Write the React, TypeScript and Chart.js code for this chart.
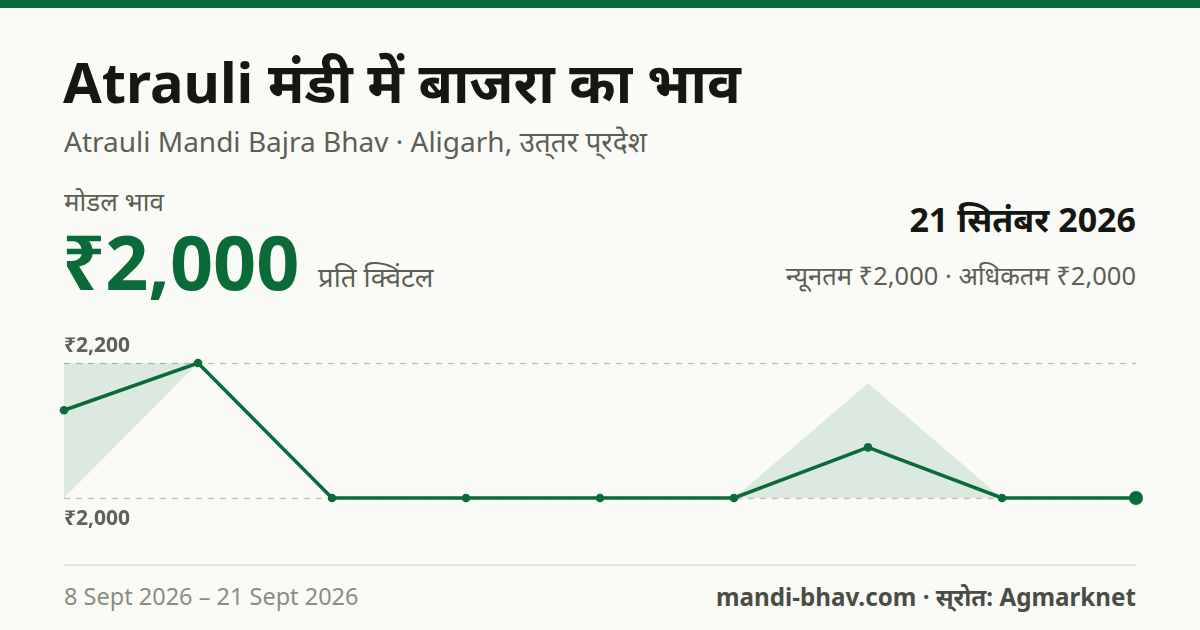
import React, { useEffect, useRef } from "react";
import { Chart, registerables } from "chart.js";

Chart.register(...registerables);

const dates = ["8 Sep", "9 Sep", "10 Sep", "11 Sep", "12 Sep", "13 Sep", "14 Sep", "15 Sep", "21 Sep"];
const modalPrices = [2130, 2200, 2000, 2000, 2000, 2000, 2075, 2000, 2000];
const minPrices = [2000, 2200, 2000, 2000, 2000, 2000, 2000, 2000, 2000];
const maxPrices = [2200, 2200, 2000, 2000, 2000, 2000, 2170, 2000, 2000];
const yTicks = [2000, 2200];
const yTickLabels = ["₹2,000", "₹2,200"];

const GREEN = "#0b6b38";
const FONT = "'Noto Sans', 'Noto Sans Devanagari', sans-serif";

const gridPlugin = {
  id: "customGrid",
  beforeDatasetsDraw(chart: any) {
    const { ctx, chartArea, scales } = chart;
    const y = scales.y;
    ctx.save();
    ctx.strokeStyle = "#bdbfb8";
    ctx.lineWidth = 1.3;
    ctx.setLineDash([6, 6]);
    yTicks.forEach((v) => {
      const py = Math.round(y.getPixelForValue(v)) + 0.5;
      ctx.beginPath();
      ctx.moveTo(chartArea.left, py);
      ctx.lineTo(chartArea.right, py);
      ctx.stroke();
    });
    ctx.restore();
  },
  afterDraw(chart: any) {
    const { ctx, chartArea, scales } = chart;
    const y = scales.y;
    ctx.save();
    ctx.font = `bold 21px ${FONT}`;
    ctx.fillStyle = "#5f6259";
    ctx.textAlign = "left";
    ctx.textBaseline = "alphabetic";
    yTicks.forEach((v, i) => {
      const py = y.getPixelForValue(v);
      const isTop = v === Math.max(...yTicks);
      ctx.fillText(yTickLabels[i], chartArea.left, isTop ? py - 11 : py + 27);
    });
    ctx.restore();
  },
};

export default function App() {
  const ref = useRef<HTMLCanvasElement | null>(null);

  useEffect(() => {
    document.body.style.margin = "0";
    const canvas = ref.current!;
    const pointRadii = modalPrices.map((_, i) => (i === modalPrices.length - 1 ? 7 : 4.3));
    const chart = new Chart(canvas, {
      type: "line",
      data: {
        labels: dates,
        datasets: [
          {
            data: maxPrices,
            borderWidth: 0,
            pointRadius: 0,
            fill: "+1",
            backgroundColor: "rgba(11,107,56,0.12)",
            tension: 0,
            order: 3,
          },
          {
            data: minPrices,
            borderWidth: 0,
            pointRadius: 0,
            fill: false,
            tension: 0,
            order: 3,
          },
          {
            data: modalPrices,
            borderColor: GREEN,
            borderWidth: 3.5,
            pointRadius: pointRadii,
            pointBackgroundColor: GREEN,
            pointBorderWidth: 0,
            fill: false,
            tension: 0,
            clip: false as any,
            order: 1,
          },
        ],
      },
      options: {
        responsive: false,
        animation: false,
        maintainAspectRatio: false,
        layout: { padding: { left: 64, right: 64, top: 33, bottom: 42 } },
        plugins: { legend: { display: false }, tooltip: { enabled: false } },
        scales: {
          x: { display: false, offset: false },
          y: { display: false, min: 2000, max: 2200 },
        },
      },
      plugins: [gridPlugin],
    });
    return () => chart.destroy();
  }, []);

  const abs = (s: React.CSSProperties): React.CSSProperties => ({ position: "absolute", whiteSpace: "nowrap", lineHeight: 1, ...s });

  return (
    <div style={{ position: "relative", width: 1200, height: 630, background: "#fafbf7", fontFamily: FONT, overflow: "hidden" }}>
      <div style={abs({ left: 0, top: 0, width: 1200, height: 8, background: GREEN })} />
      <div style={abs({ left: 63, top: 53, fontSize: 56, fontWeight: 700, color: "#151712" })}>
        Atrauli मंडी में बाजरा का भाव
      </div>
      <div style={abs({ left: 64, top: 127, fontSize: 28, color: "#5c5f55" })}>
        Atrauli Mandi Bajra Bhav · Aligarh, उत्‌तर प्‌रदेश
      </div>
      <div style={abs({ left: 64, top: 188, fontSize: 26, color: "#5c5f55" })}>मोडल भाव</div>
      <div style={abs({ left: 62, top: 223, fontSize: 75.5, fontWeight: 700, color: GREEN })}>
        ₹2,000
      </div>
      <div style={abs({ left: 318, top: 263, fontSize: 27.5, color: "#5c5f55" })}>प्रति क्विंटल</div>
      <div style={abs({ right: 64, top: 202, fontSize: 34, fontWeight: 700, color: "#151712" })}>
        21 सितंबर 2026
      </div>
      <div style={abs({ right: 64, top: 263, fontSize: 25.5, color: "#5c5f55" })}>
        न्यूनतम ₹2,000 · अधिकतम ₹2,000
      </div>
      <canvas ref={ref} width={1200} height={210} style={{ position: "absolute", left: 0, top: 330, width: 1200, height: 210 }} />
      <div style={abs({ left: 64, top: 564, width: 1072, height: 2, background: "#e4e6df" })} />
      <div style={abs({ left: 64, top: 585, fontSize: 23.5, color: "#8a8d85" })}>
        8 Sept 2026 – 21 Sept 2026
      </div>
      <div style={abs({ right: 64, top: 585, fontSize: 24.2, fontWeight: 700, color: "#4a4d45" })}>
        mandi-bhav.com · स्‌रोत: Agmarknet
      </div>
    </div>
  );
}
